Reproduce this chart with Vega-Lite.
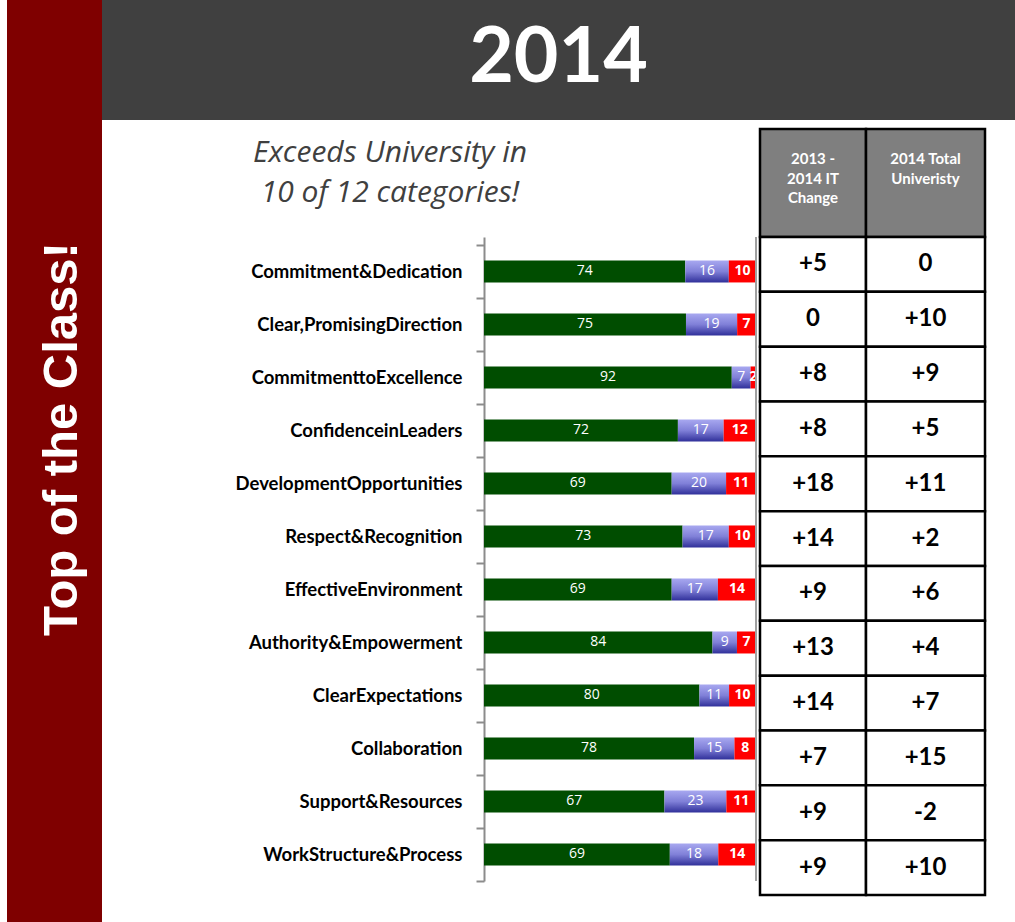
{
  "$schema": "https://vega.github.io/schema/vega-lite/v6.json",
  "padding": {"left": 7, "top": 0, "right": 0, "bottom": 0},
  "background": "white",
  "config": {"view": {"stroke": null}},
  "datasets": {
    "bars": [
      {"category": "Commitment&Dedication", "response": "favorable", "value": 74},
      {"category": "Commitment&Dedication", "response": "neutral", "value": 16},
      {"category": "Commitment&Dedication", "response": "unfavorable", "value": 10},
      {"category": "Clear,PromisingDirection", "response": "favorable", "value": 75},
      {"category": "Clear,PromisingDirection", "response": "neutral", "value": 19},
      {"category": "Clear,PromisingDirection", "response": "unfavorable", "value": 7},
      {"category": "CommitmenttoExcellence", "response": "favorable", "value": 92},
      {"category": "CommitmenttoExcellence", "response": "neutral", "value": 7},
      {"category": "CommitmenttoExcellence", "response": "unfavorable", "value": 2},
      {"category": "ConfidenceinLeaders", "response": "favorable", "value": 72},
      {"category": "ConfidenceinLeaders", "response": "neutral", "value": 17},
      {"category": "ConfidenceinLeaders", "response": "unfavorable", "value": 12},
      {"category": "DevelopmentOpportunities", "response": "favorable", "value": 69},
      {"category": "DevelopmentOpportunities", "response": "neutral", "value": 20},
      {"category": "DevelopmentOpportunities", "response": "unfavorable", "value": 11},
      {"category": "Respect&Recognition", "response": "favorable", "value": 73},
      {"category": "Respect&Recognition", "response": "neutral", "value": 17},
      {"category": "Respect&Recognition", "response": "unfavorable", "value": 10},
      {"category": "EffectiveEnvironment", "response": "favorable", "value": 69},
      {"category": "EffectiveEnvironment", "response": "neutral", "value": 17},
      {"category": "EffectiveEnvironment", "response": "unfavorable", "value": 14},
      {"category": "Authority&Empowerment", "response": "favorable", "value": 84},
      {"category": "Authority&Empowerment", "response": "neutral", "value": 9},
      {"category": "Authority&Empowerment", "response": "unfavorable", "value": 7},
      {"category": "ClearExpectations", "response": "favorable", "value": 80},
      {"category": "ClearExpectations", "response": "neutral", "value": 11},
      {"category": "ClearExpectations", "response": "unfavorable", "value": 10},
      {"category": "Collaboration", "response": "favorable", "value": 78},
      {"category": "Collaboration", "response": "neutral", "value": 15},
      {"category": "Collaboration", "response": "unfavorable", "value": 8},
      {"category": "Support&Resources", "response": "favorable", "value": 67},
      {"category": "Support&Resources", "response": "neutral", "value": 23},
      {"category": "Support&Resources", "response": "unfavorable", "value": 11},
      {"category": "WorkStructure&Process", "response": "favorable", "value": 69},
      {"category": "WorkStructure&Process", "response": "neutral", "value": 18},
      {"category": "WorkStructure&Process", "response": "unfavorable", "value": 14}
    ],
    "table": [
      {"category": "Commitment&Dedication", "it": "+5", "univ": "0"},
      {"category": "Clear,PromisingDirection", "it": "0", "univ": "+10"},
      {"category": "CommitmenttoExcellence", "it": "+8", "univ": "+9"},
      {"category": "ConfidenceinLeaders", "it": "+8", "univ": "+5"},
      {"category": "DevelopmentOpportunities", "it": "+18", "univ": "+11"},
      {"category": "Respect&Recognition", "it": "+14", "univ": "+2"},
      {"category": "EffectiveEnvironment", "it": "+9", "univ": "+6"},
      {"category": "Authority&Empowerment", "it": "+13", "univ": "+4"},
      {"category": "ClearExpectations", "it": "+14", "univ": "+7"},
      {"category": "Collaboration", "it": "+7", "univ": "+15"},
      {"category": "Support&Resources", "it": "+9", "univ": "-2"},
      {"category": "WorkStructure&Process", "it": "+9", "univ": "+10"}
    ]
  },
  "spacing": 0,
  "bounds": "flush",
  "hconcat": [
    {
      "width": 95,
      "height": 922,
      "view": {"fill": "#7f0000", "stroke": null},
      "data": {"values": [{"label": "Top of the Class!"}]},
      "mark": {"type": "text", "angle": 270, "font": "Liberation Sans", "fontWeight": "bold", "fontSize": 49, "color": "white", "align": "center", "baseline": "middle", "dx": 22, "dy": 7},
      "encoding": {"text": {"field": "label", "type": "nominal"}}
    },
    {
      "spacing": 9,
      "bounds": "flush",
      "vconcat": [
        {
          "width": 913,
          "height": 120,
          "view": {"fill": "#404040", "stroke": null},
          "data": {"values": [{"year": "2014"}]},
          "mark": {"type": "text", "font": "Lato", "fontWeight": "bold", "fontSize": 77, "color": "white", "align": "center", "baseline": "middle", "dy": -1},
          "encoding": {"text": {"field": "year", "type": "nominal"}}
        },
        {
          "columns": 4,
          "spacing": 0,
          "bounds": "flush",
          "align": "each",
          "concat": [
            {
              "width": 382,
              "height": 108,
              "data": {"values": [{}]},
              "mark": {"type": "text"}
            },
            {
              "width": 276,
              "height": 108,
              "data": {"values": [{"sub": "Exceeds University in\n10 of 12 categories!"}]},
              "mark": {"type": "text", "lineBreak": "\n", "lineHeight": 40, "font": "Open Sans", "fontStyle": "italic", "fontSize": 30, "color": "#404040", "align": "center", "baseline": "middle", "dx": -232, "dy": -30},
              "encoding": {"text": {"field": "sub", "type": "nominal"}}
            },
            {
              "width": 106,
              "height": 108,
              "view": {"fill": "#7f7f7f", "stroke": "#000000", "strokeWidth": 2.5},
              "data": {"values": [{"h": "2013 -\n2014 IT\nChange"}]},
              "mark": {"type": "text", "lineBreak": "\n", "lineHeight": 19.5, "font": "Lato", "fontWeight": "bold", "fontSize": 15, "color": "white", "align": "center", "baseline": "top", "dy": -31},
              "encoding": {"text": {"field": "h", "type": "nominal"}}
            },
            {
              "width": 119,
              "height": 108,
              "view": {"fill": "#7f7f7f", "stroke": "#000000", "strokeWidth": 2.5},
              "data": {"values": [{"h": "2014 Total\nUniveristy"}]},
              "mark": {"type": "text", "lineBreak": "\n", "lineHeight": 19.5, "font": "Lato", "fontWeight": "bold", "fontSize": 15, "color": "white", "align": "center", "baseline": "top", "dy": -31},
              "encoding": {"text": {"field": "h", "type": "nominal"}}
            },
            {
              "width": 382,
              "height": 658,
              "data": {"values": [{}]},
              "mark": {"type": "text"}
            },
            {
              "width": 276,
              "height": 644,
              "data": {"name": "bars"},
              "transform": [
                {"stack": "value", "groupby": ["category"], "sort": [{"field": "response", "order": "ascending"}], "offset": "normalize", "as": ["x0", "x1"]},
                {"calculate": "(datum.x0 + datum.x1) / 2", "as": "xmid"}
              ],
              "layer": [
                {
                  "mark": {"type": "bar", "height": {"band": 0.415}},
                  "encoding": {
                    "y": {
                      "field": "category", "type": "nominal",
                      "sort": ["Commitment&Dedication", "Clear,PromisingDirection", "CommitmenttoExcellence", "ConfidenceinLeaders", "DevelopmentOpportunities", "Respect&Recognition", "EffectiveEnvironment", "Authority&Empowerment", "ClearExpectations", "Collaboration", "Support&Resources", "WorkStructure&Process"],
                      "scale": {"paddingInner": 0, "paddingOuter": 0.075, "align": 1},
                      "axis": {"title": null, "orient": "left", "domainColor": "#8c8c8c", "domainWidth": 2, "tickColor": "#8c8c8c", "tickWidth": 2, "tickSize": 8, "tickBand": "extent", "labelFont": "Lato", "labelFontWeight": "bold", "labelFontSize": 18.5, "labelColor": "#000000", "labelPadding": 14, "labelLimit": 400}
                    },
                    "x": {"field": "x0", "type": "quantitative", "scale": {"domain": [0, 1.0147], "nice": false, "zero": false}, "axis": null},
                    "x2": {"field": "x1"},
                    "fill": {
                      "condition": {"test": "datum.response === 'neutral'", "value": {"gradient": "linear", "x1": 0, "y1": 0, "x2": 0, "y2": 1, "stops": [{"offset": 0, "color": "#a8a8f0"}, {"offset": 0.5, "color": "#8080d8"}, {"offset": 1, "color": "#30309a"}]}},
                      "field": "response", "type": "nominal",
                      "scale": {"domain": ["favorable", "neutral", "unfavorable"], "range": ["#004d00", "#8080d8", "#ff0000"]},
                      "legend": null
                    }
                  }
                },
                {
                  "transform": [{"filter": "datum.response !== 'unfavorable'"}],
                  "mark": {"type": "text", "color": "white", "font": "Open Sans", "fontSize": 14, "align": "center", "baseline": "middle"},
                  "encoding": {
                    "y": {"field": "category", "type": "nominal", "sort": ["Commitment&Dedication", "Clear,PromisingDirection", "CommitmenttoExcellence", "ConfidenceinLeaders", "DevelopmentOpportunities", "Respect&Recognition", "EffectiveEnvironment", "Authority&Empowerment", "ClearExpectations", "Collaboration", "Support&Resources", "WorkStructure&Process"]},
                    "x": {"field": "xmid", "type": "quantitative"},
                    "text": {"field": "value", "type": "quantitative"}
                  }
                },
                {
                  "transform": [{"filter": "datum.response === 'unfavorable'"}],
                  "mark": {"type": "text", "color": "white", "font": "Open Sans", "fontWeight": "bold", "fontSize": 14, "align": "center", "baseline": "middle"},
                  "encoding": {
                    "y": {"field": "category", "type": "nominal", "sort": ["Commitment&Dedication", "Clear,PromisingDirection", "CommitmenttoExcellence", "ConfidenceinLeaders", "DevelopmentOpportunities", "Respect&Recognition", "EffectiveEnvironment", "Authority&Empowerment", "ClearExpectations", "Collaboration", "Support&Resources", "WorkStructure&Process"]},
                    "x": {"field": "xmid", "type": "quantitative"},
                    "text": {"field": "value", "type": "quantitative"}
                  }
                },
                {
                  "data": {"values": [{}]},
                  "mark": {"type": "rule", "color": "#a0a0a0", "strokeWidth": 2},
                  "encoding": {"x": {"datum": 1}}
                }
              ]
            },
            {
              "width": 106,
              "height": 658,
              "data": {"name": "table"},
              "encoding": {
                "y": {"field": "category", "type": "nominal", "sort": ["Commitment&Dedication", "Clear,PromisingDirection", "CommitmenttoExcellence", "ConfidenceinLeaders", "DevelopmentOpportunities", "Respect&Recognition", "EffectiveEnvironment", "Authority&Empowerment", "ClearExpectations", "Collaboration", "Support&Resources", "WorkStructure&Process"], "axis": null, "scale": {"paddingInner": 0, "paddingOuter": 0}}
              },
              "layer": [
                {"mark": {"type": "rect", "fill": "white", "stroke": "black", "strokeWidth": 2.5}},
                {"mark": {"type": "text", "font": "Lato", "fontWeight": "bold", "fontSize": 24, "color": "black", "align": "center", "baseline": "middle"}, "encoding": {"text": {"field": "it", "type": "nominal"}}}
              ]
            },
            {
              "width": 119,
              "height": 658,
              "data": {"name": "table"},
              "encoding": {
                "y": {"field": "category", "type": "nominal", "sort": ["Commitment&Dedication", "Clear,PromisingDirection", "CommitmenttoExcellence", "ConfidenceinLeaders", "DevelopmentOpportunities", "Respect&Recognition", "EffectiveEnvironment", "Authority&Empowerment", "ClearExpectations", "Collaboration", "Support&Resources", "WorkStructure&Process"], "axis": null, "scale": {"paddingInner": 0, "paddingOuter": 0}}
              },
              "layer": [
                {"mark": {"type": "rect", "fill": "white", "stroke": "black", "strokeWidth": 2.5}},
                {"mark": {"type": "text", "font": "Lato", "fontWeight": "bold", "fontSize": 24, "color": "black", "align": "center", "baseline": "middle"}, "encoding": {"text": {"field": "univ", "type": "nominal"}}}
              ]
            }
          ]
        }
      ]
    }
  ]
}
